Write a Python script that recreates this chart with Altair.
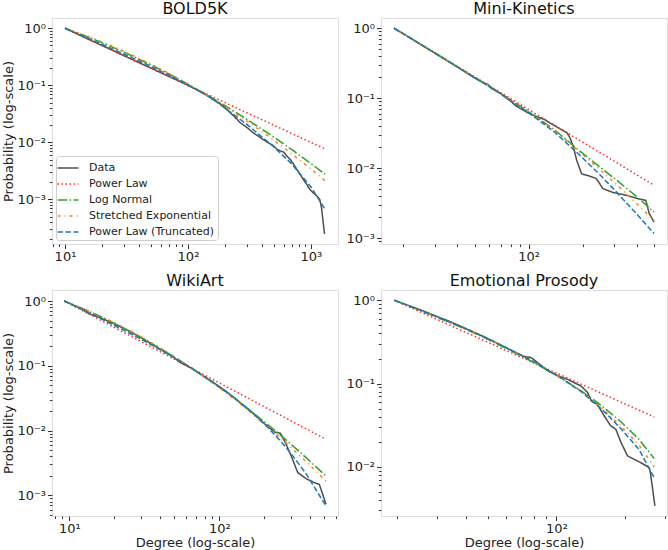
import altair as alt
import pandas as pd

SERIES = ["Data", "Power Law", "Log Normal", "Stretched Exponential", "Power Law (Truncated)"]
COLORS = ["#4d4d4d", "#ff2a2a", "#2ca02c", "#ff7f0e", "#1f77b4"]
DASHES = [[1, 0], [1.5, 2.5], [9.6, 2.4, 1.5, 2.4], [3, 4, 1, 4], [5.5, 2.4]]

# ---------------- BOLD5K ----------------
b_dx = [10, 13, 17, 22, 30, 40, 55, 70, 85, 100, 120, 140, 163, 190, 209, 240, 267, 300, 343, 390, 437, 490,
        530, 562, 600, 631, 680, 720, 765, 813, 870, 922, 980, 1047, 1120, 1180, 1218, 1290]
b_dy = [1, 0.77, 0.585, 0.455, 0.333, 0.25, 0.182, 0.143, 0.118, 0.1, 0.082, 0.068, 0.055, 0.045, 0.037, 0.028,
        0.022, 0.0185, 0.0145, 0.0121, 0.0102, 0.0089, 0.0076, 0.0071, 0.0068, 0.0059, 0.0050, 0.0042, 0.0034,
        0.0028, 0.0022, 0.00186, 0.0015, 0.0013, 0.00115, 0.00100, 0.00072, 0.00025]
b_fx = [10, 15, 20, 30, 50, 70, 100, 150, 200, 300, 500, 700, 1000, 1300]
b_pl = [1, 0.667, 0.5, 0.333, 0.2, 0.143, 0.1, 0.0667, 0.05, 0.0333, 0.02, 0.0143, 0.01, 0.0077]
b_ln = [1, 0.720, 0.560, 0.384, 0.228, 0.158, 0.105, 0.0639, 0.0442, 0.0256, 0.01235, 0.00745, 0.00426, 0.00279]
b_se = [1, 0.735, 0.577, 0.398, 0.236, 0.1625, 0.106, 0.0632, 0.0428, 0.0239, 0.0109, 0.00629, 0.00341, 0.00214]
b_tpl = [1, 0.684, 0.525, 0.355, 0.214, 0.151, 0.102, 0.0631, 0.0398, 0.0209, 0.00832, 0.00417, 0.00166, 0.00068]

# ---------------- Mini-Kinetics ----------------
m_dx = [17.8, 22, 27, 33, 40, 47, 53, 57, 59.3, 62, 70, 76, 79.7, 84.8, 92, 100, 110, 121.5, 140, 163, 170,
        177.5, 185, 197, 215, 238, 259, 294, 350, 400, 449, 469, 499]
m_dy = [1, 0.72, 0.52, 0.38, 0.28, 0.215, 0.178, 0.163, 0.158, 0.138, 0.116, 0.098, 0.09, 0.0775, 0.069, 0.061,
        0.055, 0.05, 0.04, 0.0322, 0.027, 0.020, 0.013, 0.0083, 0.0078, 0.0071, 0.0051, 0.0045, 0.0041,
        0.0037, 0.00346, 0.00224, 0.0017]
m_fx = [17.8, 25, 35, 50, 70, 100, 140, 193, 250, 307, 400, 499]
m_pl = [1, 0.590, 0.350, 0.201, 0.120, 0.0688, 0.0408, 0.0248, 0.0166, 0.0121, 0.0080, 0.0057]
m_ln = [1, 0.590, 0.348, 0.199, 0.117, 0.064, 0.035, 0.0175, 0.0103, 0.0068, 0.0039, 0.00236]
m_se = [1, 0.595, 0.352, 0.200, 0.117, 0.064, 0.0345, 0.0168, 0.0095, 0.0059, 0.0031, 0.00179]
m_tpl = [1, 0.588, 0.346, 0.197, 0.115, 0.062, 0.0325, 0.0152, 0.0080, 0.0046, 0.0022, 0.00116]

# ---------------- WikiArt ----------------
w_dx = [9.26, 12, 13.5, 16, 20, 25, 30, 40, 49, 55, 65, 80, 92.6, 110, 126, 150, 171, 200, 233, 255, 270, 301,
        333, 380, 430, 464, 514]
w_dy = [1, 0.76, 0.64, 0.555, 0.445, 0.345, 0.272, 0.183, 0.138, 0.112, 0.092, 0.067, 0.054, 0.041, 0.032,
        0.023, 0.0178, 0.0128, 0.0095, 0.0091, 0.0072, 0.0041, 0.00225, 0.0018, 0.00157, 0.00148, 0.00073]
w_fx = [9.26, 12, 16, 22, 30, 40, 49, 65, 92.6, 126, 171, 210, 260, 301, 380, 514]
w_pl = [1, 0.729, 0.513, 0.3475, 0.2377, 0.167, 0.1303, 0.0922, 0.0597, 0.0410, 0.0282, 0.0219, 0.0169, 0.0141,
        0.0106, 0.00733]
w_ln = [1, 0.783, 0.581, 0.405, 0.276, 0.1883, 0.1416, 0.0930, 0.0530, 0.0316, 0.01825, 0.01243, 0.00821,
        0.00612, 0.00379, 0.00199]
w_se = [1, 0.790, 0.591, 0.4135, 0.2818, 0.1914, 0.1432, 0.0931, 0.0521, 0.0305, 0.0172, 0.0115, 0.00745,
        0.00547, 0.0033, 0.00167]
w_tpl = [1, 0.751, 0.542, 0.375, 0.258, 0.1796, 0.1376, 0.0927, 0.0541, 0.0320, 0.01765, 0.01123, 0.00661,
         0.0044, 0.00213, 0.000685]

# ---------------- Emotional Prosody ----------------
e_dx = [19.5, 22, 25, 30, 35, 41, 47, 52, 58, 65, 72, 77.5, 85, 91.7, 101, 112, 128, 137, 142, 151, 162, 173,
        182, 192, 205, 234, 255, 258, 270]
e_dy = [1, 0.885, 0.78, 0.64, 0.54, 0.445, 0.375, 0.33, 0.283, 0.243, 0.212, 0.205, 0.168, 0.142, 0.125, 0.112,
        0.0935, 0.078, 0.0618, 0.0564, 0.0408, 0.031, 0.0283, 0.0195, 0.0135, 0.01124, 0.0098, 0.0085, 0.0034]
e_fx = [19.5, 24, 30, 38, 48, 60, 77.5, 101, 128, 157, 190, 230, 268]
e_pl = [1, 0.775, 0.5886, 0.4395, 0.3302, 0.2507, 0.1831, 0.1322, 0.0987, 0.0767, 0.0606, 0.0479, 0.0397]
e_ln = [1, 0.80, 0.625, 0.477, 0.36, 0.266, 0.186, 0.1235, 0.0822, 0.0548, 0.0355, 0.0214, 0.0126]
e_se = [1, 0.8035, 0.631, 0.484, 0.367, 0.272, 0.1905, 0.1245, 0.0813, 0.0513, 0.0316, 0.0182, 0.0100]
e_tpl = [1, 0.8035, 0.631, 0.484, 0.367, 0.272, 0.1905, 0.1245, 0.0804, 0.0501, 0.0295, 0.0162, 0.0074]

# ---------------- tick values ----------------
x_ticks_b = [8, 9, 10, 20, 30, 40, 50, 60, 70, 80, 90, 100, 200, 300, 400, 500, 600, 700, 800, 900, 1000]
x_ticks_m = [20, 30, 40, 50, 60, 70, 80, 90, 100, 200, 300, 400, 500]
x_ticks_w = [8, 9, 10, 20, 30, 40, 50, 60, 70, 80, 90, 100, 200, 300, 400, 500, 600]
x_ticks_e = [20, 30, 40, 50, 60, 70, 80, 90, 100, 200, 300]
y_all = [0.0002, 0.0003, 0.0004, 0.0005, 0.0006, 0.0007, 0.0008, 0.0009,
         0.001, 0.002, 0.003, 0.004, 0.005, 0.006, 0.007, 0.008, 0.009,
         0.01, 0.02, 0.03, 0.04, 0.05, 0.06, 0.07, 0.08, 0.09,
         0.1, 0.2, 0.3, 0.4, 0.5, 0.6, 0.7, 0.8, 0.9, 1]

MAJOR = "abs(log(datum.value)/LN10 - round(log(datum.value)/LN10)) < 0.01"
EXP = "('' + round(log(datum.value)/LN10))"
LABEL = (MAJOR + " ? '10' + replace(replace(replace(replace(replace(" + EXP +
         ", '-', '⁻'), '0', '⁰'), '1', '¹'), '2', '²'), '3', '³') : ''")
TICKSIZE = {"condition": {"test": MAJOR, "value": 4.5}, "value": 2.5}

FONT = "DejaVu Sans"


def make_df(dx, dy, fx, pl, ln, se, tpl):
    rows = []
    for x, y in zip(dx, dy):
        rows.append({"x": x, "y": y, "s": "Data"})
    for name, ys in [("Power Law", pl), ("Log Normal", ln), ("Stretched Exponential", se),
                     ("Power Law (Truncated)", tpl)]:
        for x, y in zip(fx, ys):
            rows.append({"x": x, "y": y, "s": name})
    return pd.DataFrame(rows)


def panel(title, df, xdom, ydom, xticks, xtitle, ytitle, show_legend):
    yticks = [v for v in y_all if ydom[0] <= v <= ydom[1]]
    common = dict(labelExpr=LABEL, tickSize=TICKSIZE, grid=False, domain=False, labelOverlap=False,
                  labelFont=FONT, labelFontSize=13, labelColor="#222222", titleFont=FONT, titleFontSize=13,
                  titleFontWeight="normal", titleColor="#222222", tickColor="#333333", tickWidth=1)
    xaxis = alt.Axis(values=xticks, labelFlush=False, labelPadding=2, titlePadding=1, **common)
    yaxis = alt.Axis(values=yticks, labelPadding=2, titlePadding=1, **common)
    if show_legend:
        leg = alt.Legend(title=None, orient="bottom-left", offset=4, labelFont=FONT, labelFontSize=11,
                         labelColor="#222222", symbolType="M-1.3,0H1.3", symbolSize=256,
                         symbolStrokeWidth=1.5, padding=3, rowPadding=2, labelOffset=12,
                         fillColor="rgba(255,255,255,0.85)", strokeColor="#cccccc", cornerRadius=3)
        color = alt.Color("s:N", scale=alt.Scale(domain=SERIES, range=COLORS), legend=leg)
        dash = alt.StrokeDash("s:N", scale=alt.Scale(domain=SERIES, range=DASHES), legend=leg)
    else:
        color = alt.Color("s:N", scale=alt.Scale(domain=SERIES, range=COLORS), legend=None)
        dash = alt.StrokeDash("s:N", scale=alt.Scale(domain=SERIES, range=DASHES), legend=None)
    xenc = alt.X("x:Q", scale=alt.Scale(type="log", domain=xdom, nice=False, zero=False), axis=xaxis,
                 title=xtitle if xtitle else None)
    yenc = alt.Y("y:Q", scale=alt.Scale(type="log", domain=ydom, nice=False, zero=False), axis=yaxis,
                 title=ytitle if ytitle else None)
    return alt.Chart(df).mark_line(strokeWidth=1.5).encode(
        x=xenc, y=yenc, color=color, strokeDash=dash, detail="s:N"
    ).properties(
        width=286, height=226,
        title=alt.Title(title, font=FONT, fontSize=16, fontWeight="normal", color="#111111", offset=1)
    )


p1 = panel("BOLD5K", make_df(b_dx, b_dy, b_fx, b_pl, b_ln, b_se, b_tpl),
           [7.84, 1660], [0.000166, 1.514], x_ticks_b, "", "Probability (log-scale)", True)
p2 = panel("Mini-Kinetics", make_df(m_dx, m_dy, m_fx, m_pl, m_ln, m_se, m_tpl),
           [15.05, 589], [0.000824, 1.40], x_ticks_m, "", "", False)
p3 = panel("WikiArt", make_df(w_dx, w_dy, w_fx, w_pl, w_ln, w_se, w_tpl),
           [7.67, 618], [0.00048, 1.48], x_ticks_w, "Degree (log-scale)", "Probability (log-scale)", False)
p4 = panel("Emotional Prosody", make_df(e_dx, e_dy, e_fx, e_pl, e_ln, e_se, e_tpl),
           [17.03, 305], [0.00257, 1.33], x_ticks_e, "Degree (log-scale)", "", False)

chart = alt.concat(p1, p2, p3, p4, columns=2, spacing={"row": 46, "column": 43}, bounds="flush").resolve_scale(
    color="independent", strokeDash="independent").resolve_legend(
    color="independent", strokeDash="independent").properties(
    padding={"left": 2, "top": 0, "right": 0, "bottom": 0}
).configure_view(
    stroke="#333333", strokeWidth=1
).configure(background="white")

chart.save("out.html", embed_options={"renderer": "svg", "actions": False})
